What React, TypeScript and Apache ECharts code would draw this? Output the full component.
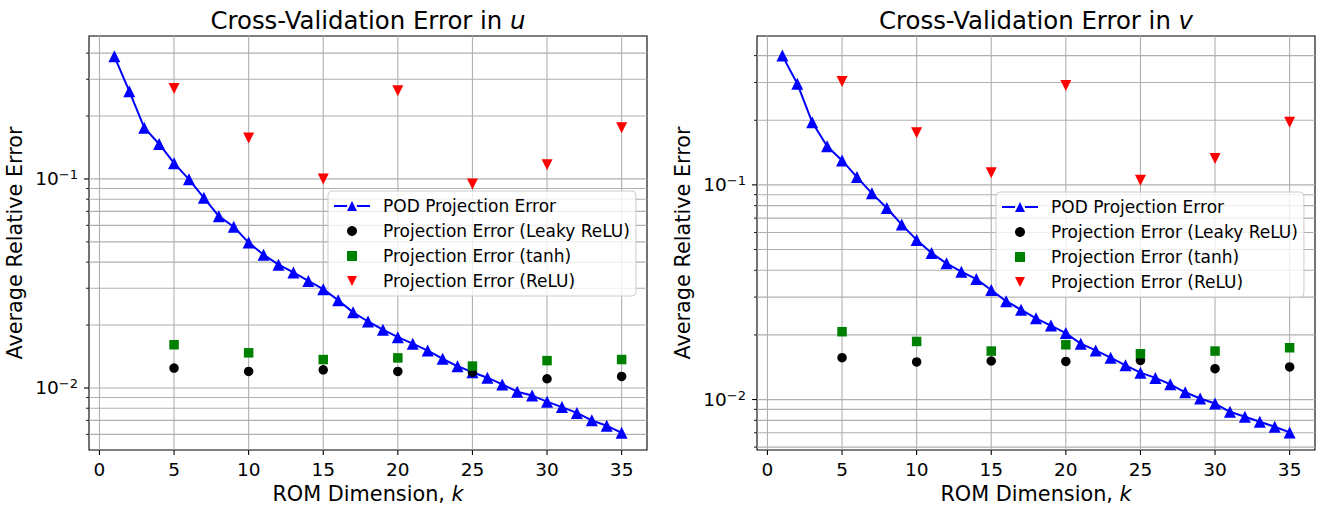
import React, { useEffect, useRef } from 'react';
import * as echarts from 'echarts';

const FONT = 'DejaVu Sans';

// ROM dimensions
const kDims = [1, 2, 3, 4, 5, 6, 7, 8, 9, 10, 11, 12, 13, 14, 15, 16, 17, 18, 19, 20, 21, 22, 23, 24, 25, 26, 27, 28, 29, 30, 31, 32, 33, 34, 35];
const kNet = [5, 10, 15, 20, 25, 30, 35];

// u
const podU = [0.386, 0.263, 0.176, 0.147, 0.119, 0.0996, 0.0812, 0.0664, 0.0591, 0.0496, 0.0434, 0.0389, 0.0357, 0.0325, 0.0297, 0.0263, 0.023, 0.0208, 0.019, 0.0175, 0.0163, 0.0151, 0.0138, 0.0127, 0.0119, 0.0112, 0.0104, 0.0096, 0.0092, 0.0086, 0.0081, 0.0076, 0.007, 0.0066, 0.0061];
const leakyU = [0.01245, 0.012, 0.01222, 0.012, 0.0119, 0.01107, 0.01135];
const tanhU = [0.0161, 0.01473, 0.01368, 0.01393, 0.01273, 0.01352, 0.01368];
const reluU = [0.271, 0.157, 0.1, 0.264, 0.0947, 0.117, 0.176];

// v
const podV = [0.4, 0.296, 0.1956, 0.1514, 0.13, 0.1087, 0.0913, 0.078, 0.0653, 0.0554, 0.0481, 0.0431, 0.0394, 0.0364, 0.0324, 0.0287, 0.0262, 0.0239, 0.0221, 0.0204, 0.0182, 0.01694, 0.01567, 0.01443, 0.01334, 0.01261, 0.01178, 0.01081, 0.01011, 0.00958, 0.00877, 0.00831, 0.00788, 0.00747, 0.00703];
const leakyV = [0.01567, 0.01496, 0.01512, 0.01505, 0.01522, 0.01392, 0.01419];
const tanhV = [0.0207, 0.01864, 0.01682, 0.01799, 0.01634, 0.01682, 0.01743];
const reluV = [0.303, 0.1747, 0.1139, 0.29, 0.105, 0.1328, 0.1956];

const xTicks = [0, 5, 10, 15, 20, 25, 30, 35];
const yGridVals = [0.006, 0.007, 0.008, 0.009, 0.01, 0.02, 0.03, 0.04, 0.05, 0.06, 0.07, 0.08, 0.09, 0.1, 0.2, 0.3, 0.4];

const titles = ['u', 'v'];
const seriesNames = ['POD Projection Error', 'Projection Error (Leaky ReLU)', 'Projection Error (tanh)', 'Projection Error (ReLU)'];

const SQUARE = 'path://M0,0L10,0L10,10L0,10Z';
const TRI_DOWN = 'path://M0,0L20,0L10,20Z';
const LINE_TRI = 'path://M0,4L13,4L13,6L0,6Z M13,10L18,0L23,10Z M23,4L36,4L36,6L23,6Z';

const isMajor = (v: number) => {
  const e = Math.log10(v);
  return Math.abs(e - Math.round(e)) < 1e-6;
};

export default function App() {
  const ref = useRef<HTMLDivElement>(null);

  useEffect(() => {
    if (!ref.current) return;
    const chart = echarts.init(ref.current, undefined, { renderer: 'svg' });

    const grids = [
      { left: 89, top: 36, width: 558, height: 416 },
      { left: 757, top: 36, width: 558, height: 416 },
    ];
    const yRanges = [
      [0.00505, 0.483],
      [0.00582, 0.4937],
    ];
    const data = [
      { pod: podU, leaky: leakyU, tanh: tanhU, relu: reluU },
      { pod: podV, leaky: leakyV, tanh: tanhV, relu: reluV },
    ];

    const xAxes: any[] = [];
    const yAxes: any[] = [];
    const series: any[] = [];
    const legends: any[] = [];

    grids.forEach((g, gi) => {
      xAxes.push({
        type: 'value',
        gridIndex: gi,
        min: -0.7,
        max: 36.7,
        axisLine: { show: false },
        axisTick: { show: false },
        axisLabel: { show: false },
        splitLine: { show: false },
        name: 'ROM Dimension, {i|k}',
        nameLocation: 'middle',
        nameGap: 33,
        nameTextStyle: {
          fontSize: 20.8,
          fontFamily: FONT,
          color: '#000',
          lineHeight: 21,
          rich: { i: { fontStyle: 'italic', fontSize: 20.8, fontFamily: FONT, color: '#000', lineHeight: 21 } },
        },
      });
      // top axis just to hold the subplot title, centred on the grid
      xAxes.push({
        type: 'value',
        gridIndex: gi,
        position: 'top',
        min: -0.7,
        max: 36.7,
        axisLine: { show: false },
        axisTick: { show: false },
        axisLabel: { show: false },
        splitLine: { show: false },
        name: 'Cross-Validation Error in {i|' + titles[gi] + '}',
        nameLocation: 'middle',
        nameGap: 4,
        nameTextStyle: {
          fontSize: 24.4,
          fontFamily: FONT,
          color: '#000',
          lineHeight: 24,
          rich: { i: { fontStyle: 'italic', fontSize: 24.4, fontFamily: FONT, color: '#000', lineHeight: 24 } },
        },
      });
      yAxes.push({
        type: 'log',
        logBase: 10,
        gridIndex: gi,
        min: yRanges[gi][0],
        max: yRanges[gi][1],
        axisLine: { show: false },
        axisTick: { show: false },
        splitLine: { show: false },
        minorTick: { show: false },
        minorSplitLine: { show: false },
        axisLabel: {
          margin: 11,
          showMinLabel: true,
          showMaxLabel: true,
          formatter: (v: number) => {
            const e = Math.log10(v);
            const r = Math.round(e);
            if (Math.abs(e - r) > 1e-6) return '';
            return '{b|10}{s|' + (r < 0 ? '\u2212' : '') + Math.abs(r) + '}';
          },
          rich: {
            b: { fontSize: 18.5, fontFamily: FONT, color: '#000', lineHeight: 21 },
            s: { fontSize: 13, fontFamily: FONT, color: '#000', lineHeight: 13, verticalAlign: 'top' },
          },
        },
        name: 'Average Relative Error',
        nameLocation: 'middle',
        nameRotate: 90,
        nameGap: 64,
        nameTextStyle: { fontSize: 20.8, fontFamily: FONT, color: '#000', lineHeight: 21 },
      });

      const xIdx = gi * 2;
      const d = data[gi];

      // y grid lines + ticks
      series.push({
        type: 'custom',
        xAxisIndex: xIdx,
        yAxisIndex: gi,
        silent: true,
        z: 1,
        clip: false,
        data: yGridVals.map((v) => [0, v]),
        renderItem: (params: any, api: any) => {
          const v = api.value(1);
          const p = api.coord([0, v]);
          const cs = params.coordSys;
          const major = isMajor(v);
          return {
            type: 'group',
            children: [
              { type: 'line', shape: { x1: cs.x, y1: p[1], x2: cs.x + cs.width, y2: p[1] }, style: { stroke: '#b0b0b0', lineWidth: major ? 1.2 : 1.1 } },
              { type: 'line', shape: { x1: cs.x - (major ? 5 : 3), y1: p[1], x2: cs.x, y2: p[1] }, style: { stroke: '#000', lineWidth: major ? 1.1 : 0.9 } },
            ],
          };
        },
      });
      // x grid lines + ticks + labels
      series.push({
        type: 'custom',
        xAxisIndex: xIdx,
        yAxisIndex: gi,
        silent: true,
        z: 1,
        clip: false,
        data: xTicks.map((v) => [v, 0.1]),
        renderItem: (params: any, api: any) => {
          const v = api.value(0);
          const p = api.coord([v, 0.1]);
          const cs = params.coordSys;
          const bottom = cs.y + cs.height;
          return {
            type: 'group',
            children: [
              { type: 'line', shape: { x1: p[0], y1: cs.y, x2: p[0], y2: bottom }, style: { stroke: '#b0b0b0', lineWidth: 1.1 } },
              { type: 'line', shape: { x1: p[0], y1: bottom, x2: p[0], y2: bottom + 5 }, style: { stroke: '#000', lineWidth: 1.1 } },
              {
                type: 'text',
                x: p[0],
                y: bottom + 19.5,
                style: { text: String(v), fontSize: 18.5, fontFamily: FONT, fill: '#000', align: 'center', verticalAlign: 'middle' },
              },
            ],
          };
        },
      });

      series.push({
        name: seriesNames[0],
        type: 'line',
        xAxisIndex: xIdx,
        yAxisIndex: gi,
        z: 5,
        data: kDims.map((k, i) => [k, d.pod[i]]),
        symbol: 'triangle',
        symbolSize: 12,
        showAllSymbol: true,
        lineStyle: { color: '#0000ff', width: 2 },
        itemStyle: { color: '#0000ff', opacity: 1 },
      });
      series.push({
        name: seriesNames[1],
        type: 'scatter',
        xAxisIndex: xIdx,
        yAxisIndex: gi,
        z: 5,
        data: kNet.map((k, i) => [k, d.leaky[i]]),
        symbol: 'circle',
        symbolSize: 9.5,
        itemStyle: { color: '#000000', opacity: 1 },
      });
      series.push({
        name: seriesNames[2],
        type: 'scatter',
        xAxisIndex: xIdx,
        yAxisIndex: gi,
        z: 5,
        data: kNet.map((k, i) => [k, d.tanh[i]]),
        symbol: SQUARE,
        symbolSize: 9.5,
        itemStyle: { color: '#008000', opacity: 1 },
      });
      series.push({
        name: seriesNames[3],
        type: 'scatter',
        xAxisIndex: xIdx,
        yAxisIndex: gi,
        z: 5,
        data: kNet.map((k, i) => [k, d.relu[i]]),
        symbol: TRI_DOWN,
        symbolSize: [11, 11],
        itemStyle: { color: '#ff0000', opacity: 1 },
      });

      legends.push({
        orient: 'vertical',
        left: gi === 0 ? 328 : 996,
        top: gi === 0 ? 191 : 192,
        data: [
          { name: seriesNames[0], icon: LINE_TRI, itemStyle: { color: '#0000ff', borderWidth: 0 } },
          { name: seriesNames[1], icon: 'circle' },
          { name: seriesNames[2], icon: SQUARE },
          { name: seriesNames[3], icon: TRI_DOWN },
        ],
        selectedMode: false,
        itemWidth: 36,
        itemHeight: 10,
        itemGap: 5,
        symbolKeepAspect: true,
        padding: [5, 6, 5, 6],
        backgroundColor: 'rgba(255,255,255,0.8)',
        borderColor: '#cccccc',
        borderWidth: 1,
        borderRadius: 4,
        textStyle: { fontSize: 17, fontFamily: FONT, color: '#000', lineHeight: 20, padding: [0, 0, 0, 8] },
      });
    });

    chart.setOption({
      animation: false,
      backgroundColor: '#ffffff',
      grid: grids.map((g) => ({ ...g, show: true, borderColor: '#000', borderWidth: 1.1, backgroundColor: 'transparent', containLabel: false })),
      xAxis: xAxes,
      yAxis: yAxes,
      legend: legends,
      series,
    });

    return () => chart.dispose();
  }, []);

  return <div ref={ref} style={{ position: 'absolute', left: 0, top: 0, width: 1331, height: 509 }} />;
}
